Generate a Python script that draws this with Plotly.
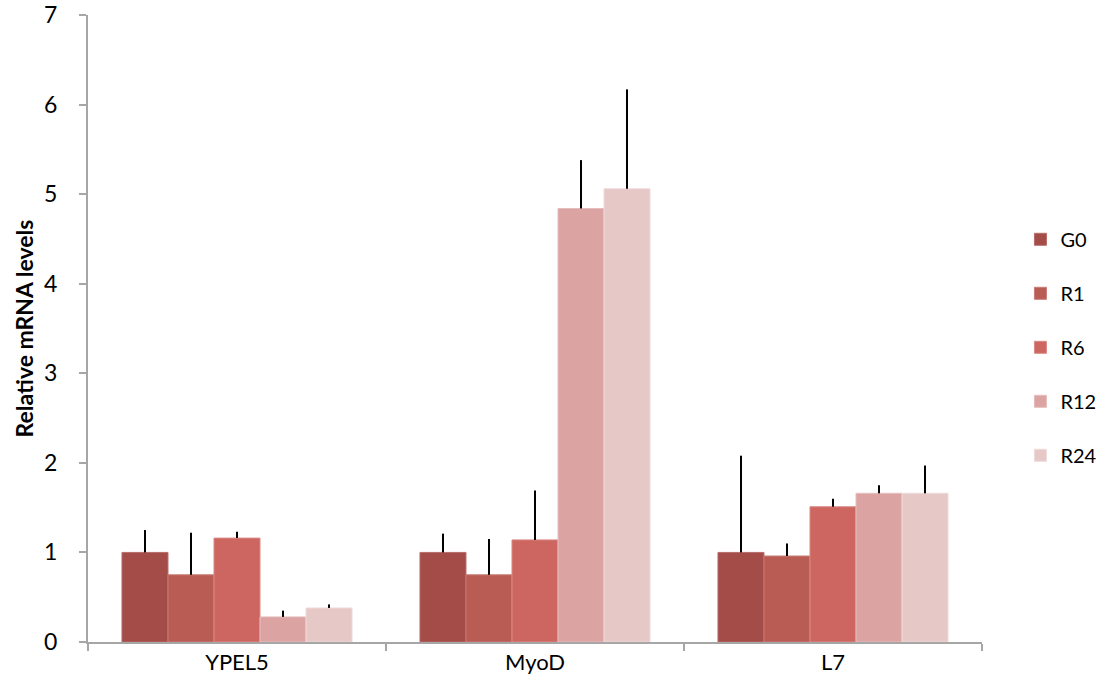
import plotly.graph_objects as go

genes = ["YPEL5", "MyoD", "L7"]
series = ["G0", "R1", "R6", "R12", "R24"]
colors = ["#A34C48", "#B95C54", "#CD6660", "#DCA3A3", "#E6C8C7"]
edge_colors = ["#B86E6A", "#C97C76", "#DA8A85", "#E6BDBD", "#EFDADA"]

g0 = [1.00, 1.00, 1.00]
r1 = [0.75, 0.75, 0.96]
r6 = [1.16, 1.14, 1.51]
r12 = [0.28, 4.84, 1.66]
r24 = [0.38, 5.06, 1.66]

g0_err = [0.25, 0.21, 1.08]
r1_err = [0.47, 0.40, 0.14]
r6_err = [0.07, 0.55, 0.09]
r12_err = [0.07, 0.54, 0.09]
r24_err = [0.04, 1.11, 0.31]

values = [g0, r1, r6, r12, r24]
errors = [g0_err, r1_err, r6_err, r12_err, r24_err]

font_family = "Lato, 'Open Sans', sans-serif"

fig = go.Figure()
for name, col, edge, vals, errs in zip(series, colors, edge_colors, values, errors):
    fig.add_trace(go.Bar(
        name=name,
        x=genes,
        y=vals,
        marker=dict(color=col, line=dict(width=1, color=edge)),
        legendgroup=name,
        error_y=dict(
            type="data", symmetric=False, array=errs,
            arrayminus=[0] * len(errs),
            color="black", thickness=2, width=0,
        ),
    ))

fig.update_layout(
    width=1107, height=696,
    barmode="group",
    bargap=0.228, bargroupgap=0,
    plot_bgcolor="white", paper_bgcolor="white",
    margin=dict(l=88, r=125, t=15, b=54, autoexpand=False),
    font=dict(family=font_family, color="black"),
    legend=dict(
        x=1.043, y=0.47, xanchor="left", yanchor="middle",
        font=dict(size=20, family=font_family),
        traceorder="grouped", tracegroupgap=25,
        itemwidth=30,
    ),
    xaxis=dict(
        showline=True, linecolor="#A6A6A6", linewidth=2,
        ticks="outside", tickson="boundaries", ticklen=7,
        tickcolor="#A6A6A6", tickwidth=2,
        tickfont=dict(size=22),
        showgrid=False, automargin=False,
    ),
    yaxis=dict(
        range=[0, 7], dtick=1,
        showline=True, linecolor="#A6A6A6", linewidth=2,
        ticks="outside", ticklen=7, tickcolor="#A6A6A6", tickwidth=2,
        tickfont=dict(size=23), ticklabelstandoff=17,
        showgrid=False, zeroline=False, automargin=False,
        title=dict(text="<b>Relative mRNA levels</b>", font=dict(size=23), standoff=4),
    ),
)

fig.write_html("out.html")
